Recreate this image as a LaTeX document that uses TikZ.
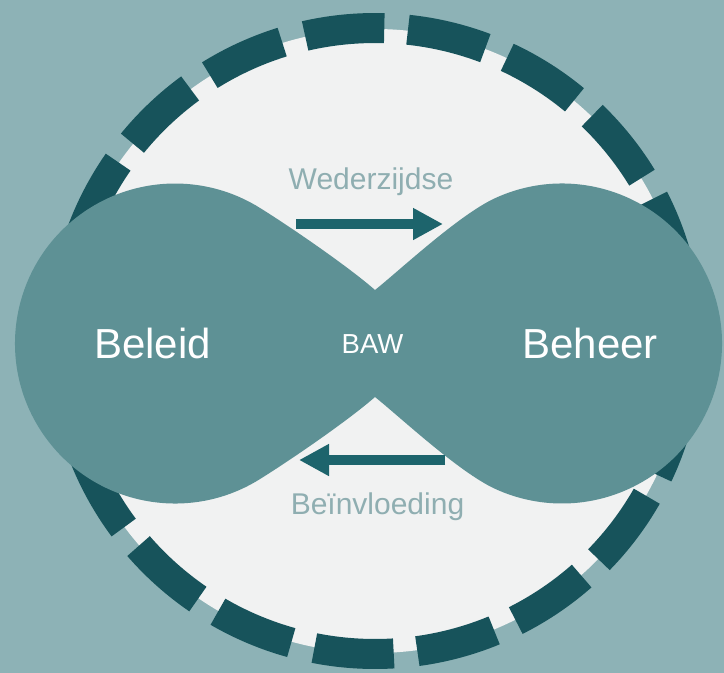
\documentclass[tikz,border=0pt]{standalone}
\usepackage{fontspec}
\setmainfont{Liberation Sans}
\usetikzlibrary{arrows.meta,calc}
\definecolor{bgc}{HTML}{8DB2B6}
\definecolor{lightc}{HTML}{F1F2F2}
\definecolor{dashc}{HTML}{17535B}
\definecolor{lobec}{HTML}{5E9195}
\definecolor{arrowc}{HTML}{1D646C}
\definecolor{labelc}{HTML}{8FAEB1}
\tikzset{
  ringdash/.style={draw=dashc, line width=30pt},
  lobe/.style={fill=lobec},
  flowarrow/.style={draw=arrowc, line width=10pt, -{Triangle[length=30pt,width=30pt]}},
  bigtext/.style={text=white, inner sep=0pt, anchor=base, font=\fontsize{42}{50}\selectfont},
  midtext/.style={text=white, inner sep=0pt, anchor=base, font=\fontsize{27.5}{33}\selectfont},
  flowtext/.style={text=labelc, inner sep=0pt, anchor=base, font=\fontsize{30}{36}\selectfont}
}
\begin{document}
\begin{tikzpicture}[x=1pt,y=-1pt]
\fill[bgc] (0,0) rectangle (724,673);
\useasboundingbox (0,0) rectangle (724,673);
\coordinate (C) at (375,341);
\fill[lightc] (C) circle[radius=312];
\foreach \k in {0,...,18} {
  \pgfmathsetmacro\sa{-95.6+18.947*\k-7.3}
  \pgfmathsetmacro\ea{-95.6+18.947*\k+7.3}
  \draw[ringdash] ($(C)+(\sa:313)$) arc[start angle=\sa, end angle=\ea, radius=313];
}
\coordinate (L) at (175,343.5);
\coordinate (R) at (562,343.5);
\coordinate (V1) at (375,290);
\coordinate (V2) at (375,397);
\fill[lobe] ($(L)+(-57.9:160)$) .. controls (293.9,229.1) and (350,268) .. (V1)
  .. controls (400,270) and (458.7,215) .. ($(R)+(-114.8:160)$)
  arc[start angle=-114.8, end angle=114.8, radius=160]
  .. controls (458.7,472) and (400,417) .. (V2)
  .. controls (350,419) and (293.9,457.9) .. ($(L)+(57.9:160)$)
  arc[start angle=57.9, end angle=302.1, radius=160] -- cycle;
\coordinate (a1s) at (296,224);
\coordinate (a1e) at (443,224);
\coordinate (a2s) at (445,460);
\coordinate (a2e) at (299,460);
\draw[flowarrow] (a1s) -- (a1e);
\draw[flowarrow] (a2s) -- (a2e);
\node[bigtext] (beleid) at (152.5,358) {Beleid};
\node[bigtext] (beheer) at (590,358) {Beheer};
\node[midtext] (baw) at (372.5,353) {BAW};
\node[flowtext] (wed) at (371,189) {Wederzijdse};
\node[flowtext] (bei) at (377.5,514) {Beïnvloeding};
\end{tikzpicture}
\end{document}
